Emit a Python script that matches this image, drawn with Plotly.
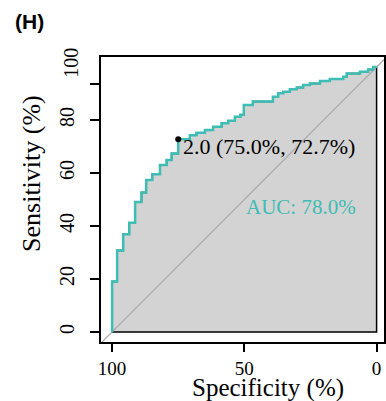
import plotly.graph_objects as go

# ROC staircase: at each specificity the curve rises to the given sensitivity (%)
specificity = [100, 98.1, 95.8, 93.5, 91.3, 88.9, 87.1, 84.8, 81.9, 79.4,
               77.5, 75.0, 70.6, 68.1, 64.9, 61.8, 58.6, 56.1, 53.6, 51.5,
               50.2, 46.8, 39.2, 37.2, 35.3, 32.8, 30.2, 27.8, 25.2, 21.4,
               17.7, 12.6, 11.3, 6.3, 3.2, 1.3, 0]
sensitivity = [19.0, 30.7, 36.9, 41.2, 49.1, 52.6, 57.4, 59.5, 63.0, 64.9,
               67.4, 72.7, 74.3, 75.2, 76.2, 77.5, 78.8, 79.7, 81.2, 82.0,
               85.7, 87.0, 88.8, 90.1, 90.7, 91.6, 92.3, 93.2, 93.8, 94.7,
               95.5, 96.3, 97.6, 98.2, 99.1, 100, 100]

# best threshold
thres_value = 2.0
thres_spec = 75.0
thres_sens = 72.7
auc_pct = 78.0

x_ticks = [100, 50, 0]
y_ticks = [0, 20, 40, 60, 80]

TEAL = "#3DBDB3"
SERIF = "Liberation Serif"

# expand the steps into explicit vertices (vertical rise, then horizontal run)
px, py = [], []
prev = 0
for s, v in zip(specificity, sensitivity):
    px += [s, s]
    py += [prev, v]
    prev = v

fig = go.Figure()

# AUC polygon
fig.add_trace(go.Scatter(
    x=px + [0, 100, 100], y=py + [0, 0, 0],
    fill="toself", fillcolor="#D3D3D3",
    mode="lines", line=dict(color="black", width=1.5),
    hoverinfo="skip", showlegend=False))

# identity line
fig.add_trace(go.Scatter(
    x=[120, -20], y=[-20, 120], mode="lines",
    line=dict(color="#A9A9A9", width=1.2),
    hoverinfo="skip", showlegend=False))

# ROC curve
fig.add_trace(go.Scatter(
    x=px, y=py, mode="lines",
    line=dict(color=TEAL, width=2.5),
    showlegend=False))

# threshold point
fig.add_trace(go.Scatter(
    x=[thres_spec], y=[thres_sens], mode="markers",
    marker=dict(color="black", size=6),
    showlegend=False))

axis_common = dict(
    showline=True, mirror=True, linecolor="black", linewidth=2,
    ticks="outside", tickwidth=1.5, tickcolor="black",
    showgrid=False, zeroline=False, automargin=False,
)

fig.update_layout(
    width=386, height=401,
    margin=dict(l=101, r=2, t=57, b=59),
    paper_bgcolor="white", plot_bgcolor="white",
    xaxis=dict(range=[104.2, -2.8], tickvals=x_ticks,
               ticktext=[str(t) for t in x_ticks], ticklen=8,
               tickfont=dict(family=SERIF, size=19, color="black"),
               **axis_common),
    yaxis=dict(range=[-3.8, 103.8], tickvals=y_ticks + [93.5],
               ticktext=[str(t) for t in y_ticks] + [""], ticklen=9,
               tickfont=dict(family=SERIF, size=20, color="black"),
               tickangle=-90, ticklabelstandoff=8, **axis_common),
    annotations=[
        dict(text="<b>(H)</b>", xref="paper", yref="paper", x=-0.251, y=1.126,
             showarrow=False, font=dict(family="Liberation Sans", size=21, color="black"),
             xanchor="center", yanchor="middle"),
        dict(text="100", xref="paper", yref="y", x=-0.104, y=101.5,
             showarrow=False, textangle=-90,
             font=dict(family=SERIF, size=20, color="black"),
             xanchor="center", yanchor="middle"),
        dict(text=f"{thres_value:.1f} ({thres_spec:.1f}%, {thres_sens:.1f}%)",
             x=thres_spec, y=thres_sens, xanchor="left", yanchor="middle",
             xshift=3, yshift=-7, showarrow=False,
             font=dict(family=SERIF, size=22, color="black")),
        dict(text=f"AUC: {auc_pct:.1f}%", x=50, y=50, xanchor="left", yanchor="top",
             yshift=7, showarrow=False, font=dict(family=SERIF, size=21, color=TEAL)),
        dict(text="Specificity (%)", xref="paper", yref="paper", x=0.590, y=-0.161,
             xanchor="center", yanchor="middle", showarrow=False,
             font=dict(family=SERIF, size=25, color="black")),
        dict(text="Sensitivity (%)", xref="paper", yref="paper", x=-0.244, y=0.593,
             xanchor="center", yanchor="middle", showarrow=False, textangle=-90,
             font=dict(family=SERIF, size=26, color="black")),
    ],
)

fig.write_html("out.html")
